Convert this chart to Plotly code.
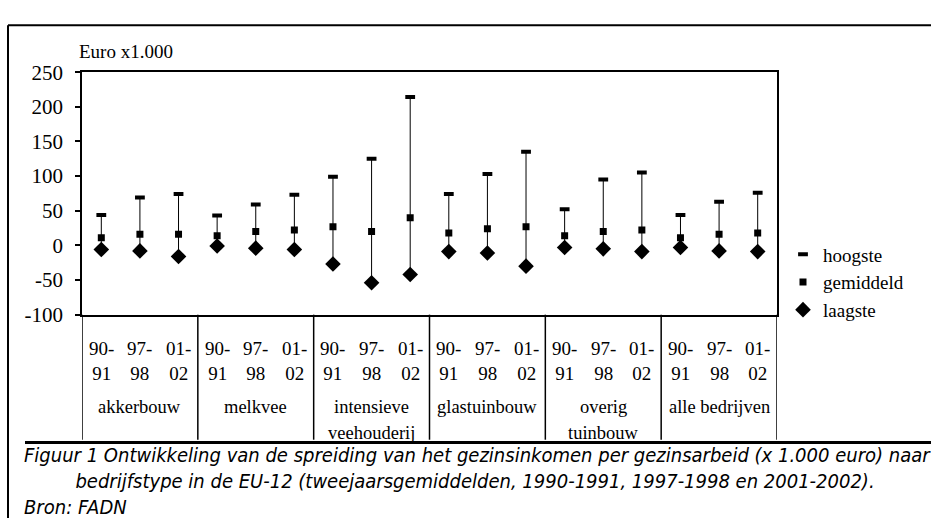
import plotly.graph_objects as go

W, H = 931, 530

groups = ["akkerbouw", "melkvee", "intensieve<br>veehouderij", "glastuinbouw", "overig<br>tuinbouw", "alle bedrijven"]
periods = ["90-<br>91", "97-<br>98", "01-<br>02"]

hoogste = [44, 69, 74, 43, 59, 73, 99, 125, 214, 74, 103, 135, 52, 95, 105, 44, 63, 76]
gemiddeld = [11, 16, 16, 14, 20, 22, 27, 20, 40, 18, 24, 27, 14, 20, 22, 11, 16, 18]
laagste = [-6, -8, -16, -1, -4, -6, -27, -54, -42, -9, -11, -30, -3, -5, -9, -3, -8, -9]

y_ticks = [-100, -50, 0, 50, 100, 150, 200, 250]
legend_names = ["hoogste", "gemiddeld", "laagste"]
y_title = "Euro x1.000"
caption_lines = ["Figuur 1 Ontwikkeling van de spreiding van het gezinsinkomen per gezinsarbeid (x 1.000 euro) naar",
                 "bedrijfstype in de EU-12 (tweejaarsgemiddelden, 1990-1991, 1997-1998 en 2001-2002).",
                 "Bron: FADN"]

SERIF = "Liberation Serif, Times New Roman, serif"
NARROW = "Liberation Sans Narrow, Arial Narrow, DejaVu Sans Condensed, Liberation Sans, sans-serif"

def px(x):
    return x / W

def py(y):
    return 1 - y / H

n = len(hoogste)
xs = list(range(1, n + 1))

# hi-lo lines
lx, ly = [], []
for i in range(n):
    lx += [xs[i], xs[i], None]
    ly += [hoogste[i], laagste[i], None]

fig = go.Figure()
fig.add_trace(go.Scatter(x=lx, y=ly, mode="lines", line=dict(color="black", width=1),
                         showlegend=False, hoverinfo="skip"))
fig.add_trace(go.Scatter(x=xs, y=hoogste, mode="markers", name=legend_names[0],
                         marker=dict(symbol="line-ew", size=7, color="black",
                                     line=dict(color="black", width=4))))
fig.add_trace(go.Scatter(x=xs, y=gemiddeld, mode="markers", name=legend_names[1],
                         marker=dict(symbol="square", size=7, color="black")))
fig.add_trace(go.Scatter(x=xs, y=laagste, mode="markers", name=legend_names[2],
                         marker=dict(symbol="diamond", size=12, color="black")))

x0, x1 = 82, 777
ytop, ybot = 63, 317

annotations = []
# period labels
for i in range(n):
    annotations.append(dict(x=xs[i], y=py(339), xref="x", yref="paper", text=periods[i % 3],
                            showarrow=False, yanchor="top", xanchor="center",
                            font=dict(family=SERIF, size=19, color="black")))
# group labels (each line placed separately)
for g, name in enumerate(groups):
    for k, line in enumerate(name.split("<br>")):
        annotations.append(dict(x=3 * g + 2, y=py(414 + 27 * k), xref="x", yref="paper", text=line,
                                showarrow=False, yanchor="middle", xanchor="center",
                                font=dict(family=SERIF, size=18.5, color="black")))
annotations.append(dict(x=px(77), y=py(41), xref="paper", yref="paper", text=y_title,
                        showarrow=False, xanchor="left", yanchor="middle",
                        font=dict(family=SERIF, size=19, color="black")))
caption_text = "<br>".join([
    "<i>" + caption_lines[0] + "</i>",
    "&nbsp;" * 9 + "<i>" + caption_lines[1] + "</i>",
    "<i>" + caption_lines[2] + "</i>",
])
annotations.append(dict(x=px(22), y=py(491), xref="paper", yref="paper", text=caption_text,
                        showarrow=False, xanchor="left", yanchor="middle", align="left",
                        font=dict(family=NARROW, size=20, color="black")))

shapes = []
# group separators incl. left & right table edges
for b in range(len(groups) + 1):
    shapes.append(dict(type="line", xref="x", yref="paper", x0=3 * b + 0.5, x1=3 * b + 0.5,
                       y0=py(ybot), y1=py(448), line=dict(color="black", width=1.5)))
# outer frame
shapes.append(dict(type="line", xref="paper", yref="paper", x0=px(8), x1=1, y0=py(14), y1=py(14),
                   line=dict(color="black", width=2)))
shapes.append(dict(type="line", xref="paper", yref="paper", x0=px(8), x1=px(8), y0=py(14), y1=0,
                   line=dict(color="black", width=2)))
shapes.append(dict(type="line", xref="paper", yref="paper", x0=px(25), x1=1, y0=py(451), y1=py(451),
                   line=dict(color="black", width=3)))

fig.update_layout(
    width=W, height=H,
    margin=dict(l=0, r=0, t=0, b=0),
    paper_bgcolor="white", plot_bgcolor="white",
    showlegend=True,
    legend=dict(x=px(783), y=py(234), xanchor="left", yanchor="top",
                font=dict(family=SERIF, size=19, color="black"),
                itemwidth=30, tracegroupgap=0, bgcolor="rgba(0,0,0,0)"),
    xaxis=dict(domain=[px(x0), px(x1)], range=[0.5, n + 0.5], showticklabels=False,
               showgrid=False, zeroline=False, showline=True, linecolor="black", linewidth=1.5,
               mirror=True, ticks=""),
    yaxis=dict(domain=[py(ybot), py(ytop)], range=[-100, 250],
               tickmode="array", tickvals=y_ticks, ticktext=[str(v) for v in y_ticks],
               showgrid=False, zeroline=False, showline=True, linecolor="black", linewidth=1.5,
               mirror=True, ticks="outside", ticklen=5, tickcolor="black", tickwidth=1.5,
               ticklabelstandoff=8,
               tickfont=dict(family=SERIF, size=21, color="black")),
    annotations=annotations,
    shapes=shapes,
)

fig.write_html("out.html", config={"displayModeBar": False},
               post_script="document.body.style.margin='0px';")
